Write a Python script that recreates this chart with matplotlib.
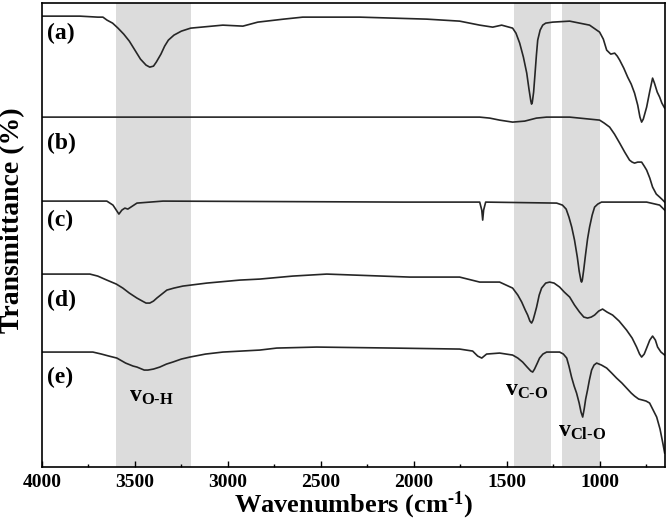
import matplotlib
matplotlib.use("Agg")
import matplotlib.pyplot as plt
from matplotlib.ticker import MultipleLocator, NullLocator

plt.rcParams['font.family'] = ['Liberation Serif', 'DejaVu Serif']
plt.rcParams['font.weight'] = 'bold'
plt.rcParams['mathtext.fontset'] = 'custom'
plt.rcParams['mathtext.rm'] = 'Liberation Serif:bold'
plt.rcParams['mathtext.it'] = 'Liberation Serif:bold'
plt.rcParams['mathtext.bf'] = 'Liberation Serif:bold'

# spectra (wavenumber cm-1, stacked transmittance in arb. units)
wn_a = [4000, 3796, 3700, 3672, 3650, 3620, 3591, 3560, 3530, 3500, 3470, 3440, 3420, 3400,
        3385, 3360, 3340, 3320, 3290, 3250, 3200, 3027, 2919, 2839, 2700, 2597, 2290, 1930,
        1753, 1645, 1575, 1527, 1468, 1450, 1430, 1410, 1392, 1380, 1370, 1366, 1362, 1355,
        1348, 1340, 1333, 1320, 1306, 1290, 1253, 1161, 1054, 1000, 980, 962, 940, 919, 905,
        892, 870, 849, 830, 812, 795, 783, 774, 765, 747, 730, 715, 705, 690, 677, 665, 650]
t_a = [451, 451, 450, 450, 447, 444, 439, 433, 426, 417, 408, 402, 400, 401,
       405, 413, 421, 427, 432, 436, 439, 442, 441, 445, 448, 450, 450, 448,
       446, 442, 440, 442, 439, 434, 424, 410, 394, 378, 366, 363, 365, 375,
       392, 412, 427, 437, 442, 444, 445, 446, 442, 435, 428, 417, 413, 414, 411,
       407, 399, 390, 383, 374, 362, 350, 345, 348, 360, 376, 389, 384, 375, 370, 364, 359]

wn_b = [4000, 3000, 2000, 1645, 1591, 1538, 1468, 1403, 1340, 1285, 1161, 1000, 975, 946,
        920, 892, 865, 839, 825, 812, 795, 774, 760, 747, 730, 715, 695, 677, 660, 650]
t_b = [350, 350, 350, 350, 349, 347, 345, 346, 349, 350, 350, 347, 344, 340,
       333, 324, 315, 307, 305, 304, 305, 305, 301, 297, 289, 280, 273, 270, 267, 265]

wn_c = [4000, 3651, 3618, 3586, 3570, 3554, 3538, 3489, 3349, 2059, 1699, 1645, 1634, 1629,
        1624, 1613, 1231, 1200, 1180, 1165, 1150, 1135, 1120, 1110, 1100, 1097, 1093, 1085,
        1076, 1065, 1054, 1040, 1027, 1010, 990, 747, 677, 650]
t_c = [266, 266, 262, 253, 257, 259, 258, 264, 266, 265, 265, 265, 257, 247,
       257, 265, 264, 262, 258, 250, 240, 227, 210, 196, 186, 185, 187, 198,
       212, 228, 240, 252, 260, 263, 265, 265, 262, 257]

wn_d = [4000, 3742, 3700, 3651, 3600, 3565, 3530, 3489, 3460, 3440, 3420, 3400, 3382, 3355,
        3328, 3290, 3242, 3113, 2935, 2828, 2651, 2468, 2022, 1753, 1645, 1538, 1468, 1440,
        1419, 1400, 1387, 1375, 1366, 1358, 1349, 1339, 1325, 1312, 1290, 1269, 1245, 1215,
        1190, 1161, 1135, 1108, 1085, 1065, 1045, 1027, 1005, 984, 960, 930, 895, 855, 825,
        801, 785, 774, 760, 747, 730, 715, 700, 688, 670, 650]
t_d = [193, 193, 191, 187, 183, 179, 174, 169, 166, 164, 164, 166, 169, 173,
       177, 179, 181, 184, 187, 188, 191, 193, 190, 190, 185, 185, 179, 172,
       165, 157, 152, 146, 144, 147, 153, 160, 172, 179, 184, 185, 184, 180,
       175, 170, 162, 155, 150, 149, 150, 152, 156, 158, 155, 152, 146, 137, 129,
       120, 113, 110, 113, 119, 127, 131, 127, 120, 115, 112]

wn_e = [4000, 3726, 3680, 3640, 3597, 3550, 3510, 3489, 3450, 3430, 3400, 3366, 3330, 3296,
        3250, 3204, 3120, 3027, 2828, 2737, 2522, 2113, 1753, 1683, 1656, 1634, 1608, 1538,
        1468, 1440, 1414, 1390, 1370, 1360, 1350, 1335, 1323, 1305, 1285, 1215, 1195, 1177,
        1165, 1151, 1137, 1124, 1110, 1100, 1091, 1083, 1075, 1065, 1055, 1043, 1030, 1016,
        990, 962, 935, 909, 880, 855, 830, 812, 790, 769, 750, 731, 712, 693, 675, 660, 650]
t_e = [115, 115, 113, 111, 109, 104, 101, 100, 97, 97, 98, 100, 103, 105,
       108, 110, 113, 115, 117, 119, 120, 119, 118, 116, 111, 109, 113, 114,
       112, 109, 105, 100, 96, 95, 98, 104, 109, 113, 115, 115, 113, 109,
       101, 90, 81, 74, 64, 55, 50, 58, 68, 77, 87, 97, 102, 104,
       102, 99, 94, 89, 84, 79, 74, 71, 68, 67, 66, 64, 57, 50, 38, 24, 14]

spectra = [(wn_a, t_a), (wn_b, t_b), (wn_c, t_c), (wn_d, t_d), (wn_e, t_e)]
panel_labels = ['(a)', '(b)', '(c)', '(d)', '(e)']
label_y = [434, 324, 247, 167, 90]

bands = [(3600, 3200), (1460, 1260), (1200, 1000)]
band_labels = [r'$\mathrm{v}_{\mathrm{O\text{-}H}}$', r'$\mathrm{v}_{\mathrm{C\text{-}O}}$',
               r'$\mathrm{v}_{\mathrm{Cl\text{-}O}}$']
band_label_pos = [(3409, 71), (1392, 77), (1097, 36)]

fig = plt.figure(figsize=(6.66, 5.23), dpi=100)
ax = fig.add_axes([0.063, 0.107, 0.935, 0.887])

for lo, hi in bands:
    ax.axvspan(hi, lo, color='#dcdcdc', lw=0, zorder=0)

for wn, t in spectra:
    ax.plot(wn, t, color='#262626', lw=1.2, zorder=2)

for lab, y in zip(panel_labels, label_y):
    ax.text(3972, y, lab, fontsize=17, fontweight='bold', ha='left', va='center')

for lab, (x, y) in zip(band_labels, band_label_pos):
    ax.text(x, y, lab, fontsize=17, ha='center', va='center')

ax.set_xlim(4000, 650)
ax.set_ylim(0, 464)
ax.xaxis.set_major_locator(MultipleLocator(500))
ax.xaxis.set_minor_locator(MultipleLocator(250))
ax.yaxis.set_major_locator(NullLocator())
ax.tick_params(axis='x', which='major', direction='in', length=4, width=1, labelsize=14, pad=5)
ax.tick_params(axis='x', which='minor', direction='in', length=2.5, width=1)
for s in ax.spines.values():
    s.set_linewidth(1.2)

ax.set_xlabel(r'Wavenumbers (cm$^{\text{-1}}$)', fontsize=19, fontweight='bold', labelpad=-1)
ax.set_ylabel('Transmittance (%)', fontsize=20, fontweight='bold')
ax.yaxis.set_label_coords(-0.027, 0.532)

fig.savefig('out.png', dpi=100)
